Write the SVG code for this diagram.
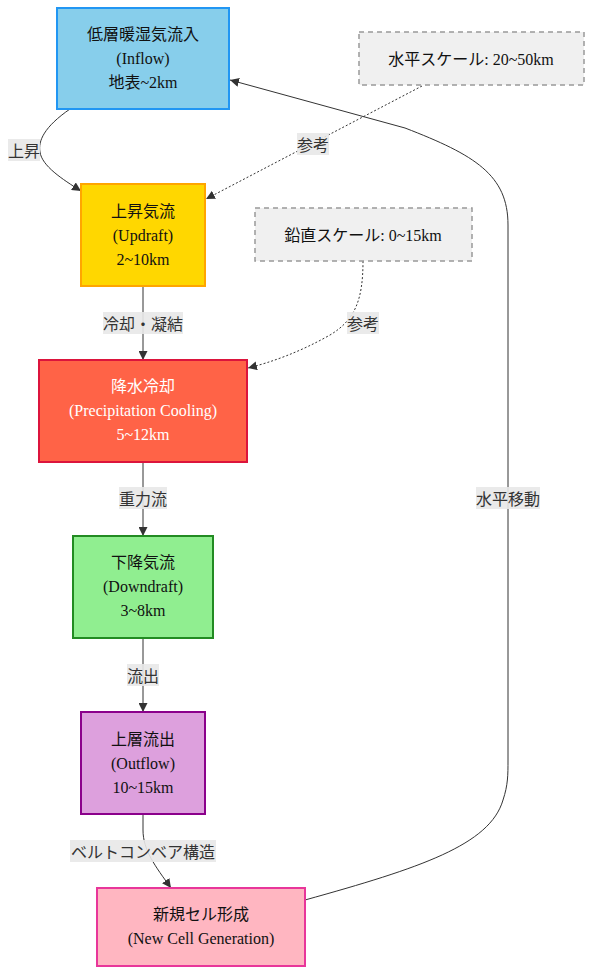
<svg xmlns="http://www.w3.org/2000/svg" width="593" height="974" viewBox="0 0 593 974">
<defs>
<marker id="arr" viewBox="0 0 10 10" refX="10" refY="5" markerWidth="9" markerHeight="9" markerUnits="userSpaceOnUse" orient="auto">
<path d="M0,0 L10,5 L0,10 z" fill="#333"/>
</marker>
<style>
.n text{font-family:"Liberation Serif","Noto Sans CJK JP",serif;font-size:16px;fill:#111;text-anchor:middle;dominant-baseline:central}
.n rect{stroke-width:2}
.note rect{fill:#f0f0f0;stroke:#999;stroke-width:1.5;stroke-dasharray:5,4}
.e{fill:none;stroke:#333;stroke-width:1}
.d{stroke-dasharray:2,2}
.lb rect{fill:#e8e8e8;opacity:0.9}
.lb text{font-family:"Noto Sans CJK JP","Liberation Sans",sans-serif;font-size:16px;fill:#333;text-anchor:middle;dominant-baseline:central}
</style>
</defs>
<rect width="593" height="974" fill="#fff"/>
<g id="edges">
<path class="e" d="M70,109 C44,127 38,141 40,152 C42,166 62,179 81,191" marker-end="url(#arr)"/>
<path class="e" d="M143,286 L143,360" marker-end="url(#arr)"/>
<path class="e" d="M143,462 L143,536" marker-end="url(#arr)"/>
<path class="e" d="M143,638 L143,712" marker-end="url(#arr)"/>
<path class="e" d="M143,814 L143,830 C143,850 155,866 171,888" marker-end="url(#arr)"/>
<path class="e" d="M305,900 C420,868 490,845 503,800 C508,785 508,775 508,760 L508,225 C508,175 475,155 405,128 L230,80" marker-end="url(#arr)"/>
<path class="e d" d="M422,86 L206,199" marker-end="url(#arr)"/>
<path class="e d" d="M363,261 C363,300 355,320 330,335 C300,352 272,362 248,368" marker-end="url(#arr)"/>
<g class="lb"><rect x="8" y="139" width="32" height="22"/><text x="24" y="150">上昇</text></g>
<g class="lb"><rect x="297" y="133" width="32" height="22"/><text x="313" y="144">参考</text></g>
<g class="lb"><rect x="103" y="312" width="80" height="22"/><text x="143" y="323">冷却・凝結</text></g>
<g class="lb"><rect x="347" y="312" width="32" height="22"/><text x="363" y="323">参考</text></g>
<g class="lb"><rect x="119" y="487" width="48" height="22"/><text x="143" y="498">重力流</text></g>
<g class="lb"><rect x="127" y="664" width="32" height="22"/><text x="143" y="675">流出</text></g>
<g class="lb"><rect x="70" y="840" width="146" height="22"/><text x="143" y="851">ベルトコンベア構造</text></g>
<g class="lb"><rect x="476" y="487" width="64" height="22"/><text x="508" y="498">水平移動</text></g>
</g>
<g id="inflow" class="n"><rect x="57" y="8" width="172" height="101" fill="#87CEEB" stroke="#2196F3"/><text x="143" y="34">低層暖湿気流入</text><text x="143" y="58">(Inflow)</text><text x="143" y="82">地表~2km</text></g>
<g id="updraft" class="n"><rect x="81" y="184" width="124" height="102" fill="#FFD700" stroke="#FFA500"/><text x="143" y="211">上昇気流</text><text x="143" y="235">(Updraft)</text><text x="143" y="259">2~10km</text></g>
<g id="precip" class="n"><rect x="39" y="360" width="208" height="102" fill="#FF6347" stroke="#DC143C"/><text x="143" y="386" style="fill:#fff">降水冷却</text><text x="143" y="410" style="fill:#fff">(Precipitation Cooling)</text><text x="143" y="434" style="fill:#fff">5~12km</text></g>
<g id="downdraft" class="n"><rect x="73" y="536" width="140" height="102" fill="#90EE90" stroke="#228B22"/><text x="143" y="562">下降気流</text><text x="143" y="586">(Downdraft)</text><text x="143" y="610">3~8km</text></g>
<g id="outflow" class="n"><rect x="81" y="712" width="124" height="102" fill="#DDA0DD" stroke="#8B008B"/><text x="143" y="739">上層流出</text><text x="143" y="763">(Outflow)</text><text x="143" y="787">10~15km</text></g>
<g id="newcell" class="n"><rect x="97" y="888" width="208" height="78" fill="#FFB6C1" stroke="#E8369A"/><text x="201" y="914">新規セル形成</text><text x="201" y="938">(New Cell Generation)</text></g>
<g id="note1" class="n note"><rect x="359" y="32" width="225" height="53"/><text x="471" y="59">水平スケール: 20~50km</text></g>
<g id="note2" class="n note"><rect x="255" y="208" width="217" height="53"/><text x="363" y="235">鉛直スケール: 0~15km</text></g>
</svg>
